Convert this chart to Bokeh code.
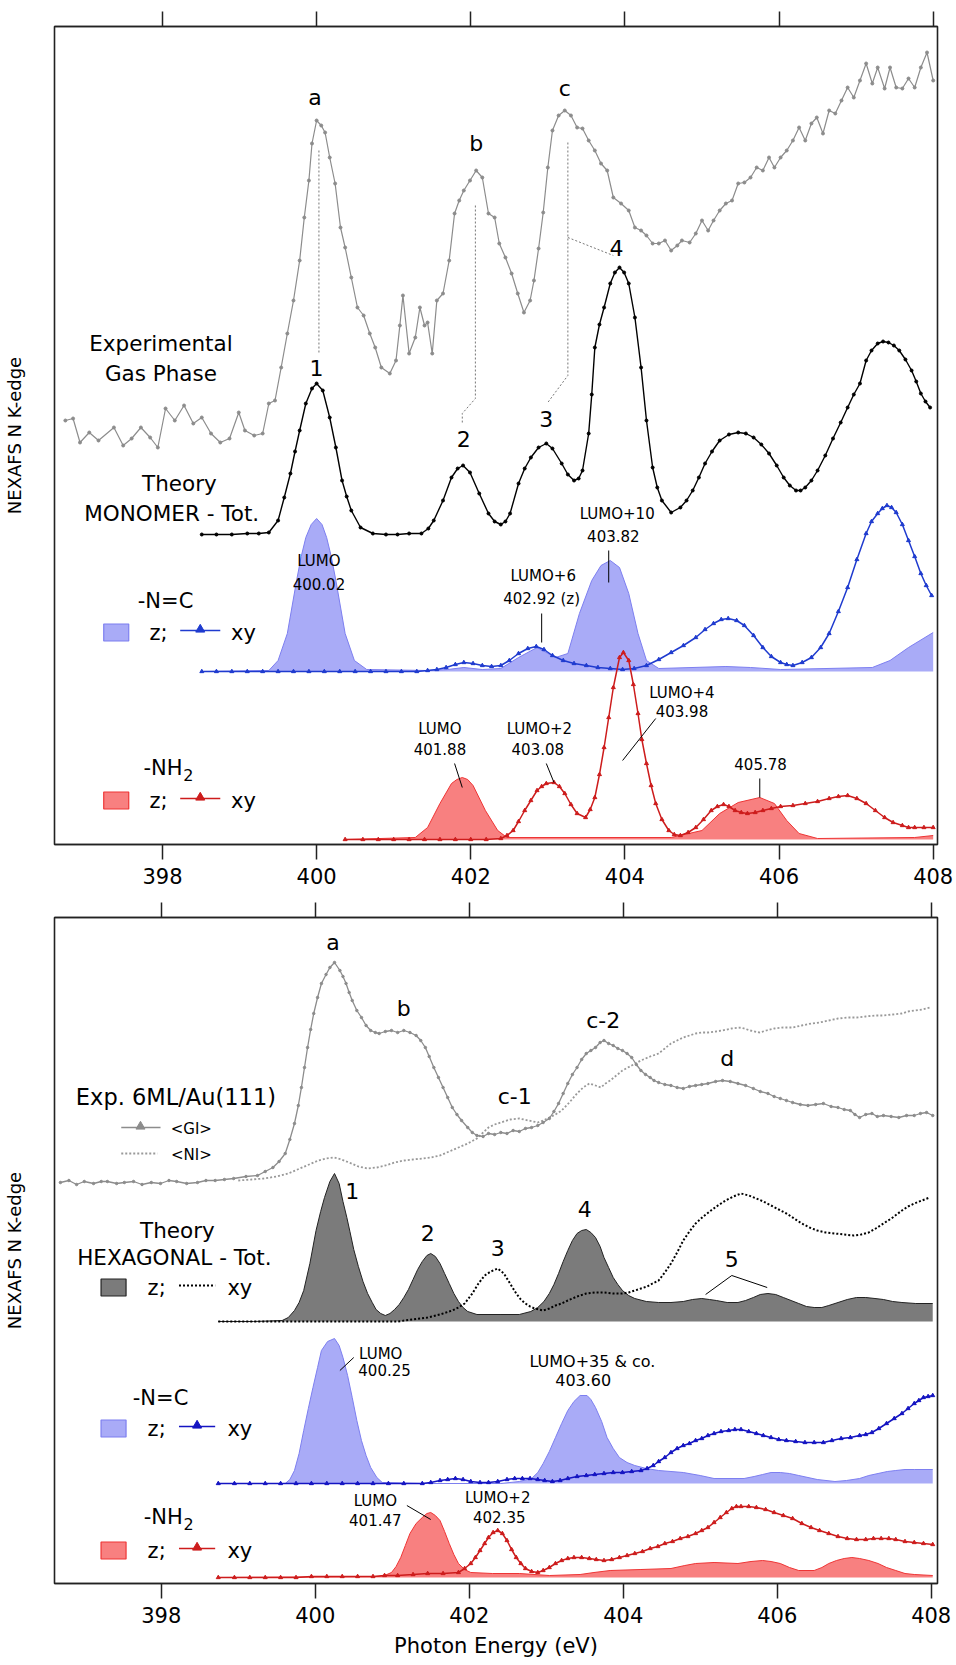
from bokeh.plotting import figure
from bokeh.models import Range1d, LinearAxis, FixedTicker
from bokeh.layouts import column
from bokeh.core.properties import value
from bokeh.embed import file_html
from bokeh.resources import INLINE

FONT = "DejaVu Sans"

# ---------------- data (photon energy eV, intensity arb. units above own baseline) -------------
TICKS = [398, 400, 402, 404, 406, 408]

# Top panel: gas phase experiment and MONOMER theory
GAS = [(396.74,10),(396.84,12),(396.93,-12),(397.05,-2),(397.17,-10),(397.37,3),(397.49,-15),(397.60,-8),(397.72,3),(397.84,-7),(397.94,-17),(398.04,22),(398.16,10),(398.28,25),(398.40,7),(398.51,13),(398.63,-3),(398.75,-12),(398.87,-8),(398.99,18),(399.07,0),(399.19,-5),(399.30,-3),(399.38,27),(399.46,30),(399.54,63),(399.62,97),(399.70,130),(399.78,170),(399.84,213),(399.90,250),(399.94,287),(400.00,310),(400.06,305),(400.11,298),(400.17,273),(400.24,247),(400.31,203),(400.37,183),(400.45,153),(400.53,123),(400.61,115),(400.69,97),(400.76,83),(400.84,63),(400.95,57),(401.03,70),(401.08,105),(401.12,135),(401.20,77),(401.28,93),(401.34,123),(401.40,105),(401.44,108),(401.50,77),(401.56,130),(401.64,137),(401.72,170),(401.79,217),(401.85,230),(401.91,240),(401.99,250),(402.07,260),(402.15,253),(402.23,217),(402.31,213),(402.37,187),(402.45,173),(402.53,157),(402.61,137),(402.69,118),(402.77,130),(402.82,150),(402.88,182),(402.94,218),(403.00,263),(403.06,300),(403.14,315),(403.22,320),(403.30,315),(403.38,303),(403.45,302),(403.53,290),(403.61,280),(403.69,267),(403.77,260),(403.85,233),(403.95,227),(404.05,220),(404.13,203),(404.21,200),(404.28,195),(404.36,187),(404.44,187),(404.52,190),(404.60,180),(404.68,185),(404.74,190),(404.84,188),(404.92,197),(405.00,210),(405.08,200),(405.15,210),(405.23,220),(405.31,227),(405.39,230),(405.47,247),(405.55,248),(405.63,253),(405.71,263),(405.79,260),(405.87,273),(405.94,263),(406.02,273),(406.10,280),(406.18,290),(406.26,303),(406.34,290),(406.42,307),(406.49,313),(406.57,297),(406.65,320),(406.73,317),(406.81,330),(406.89,343),(406.97,333),(407.05,350),(407.13,367),(407.21,347),(407.28,363),(407.37,342),(407.44,363),(407.52,343),(407.60,342),(407.68,352),(407.76,343),(407.84,363),(407.92,378),(408.00,350)]

MONO_TOT = [(398.51,0),(398.70,0),(398.90,0),(399.10,1),(399.25,1),(399.38,2),(399.50,14),(399.58,37),(399.66,61),(399.72,83),(399.78,104),(399.86,131),(399.94,146),(400.00,151),(400.08,144),(400.17,117),(400.25,87),(400.33,54),(400.39,38),(400.45,24),(400.57,7),(400.73,1),(400.90,0),(401.05,0),(401.20,1),(401.36,1),(401.45,6),(401.52,14),(401.64,34),(401.75,57),(401.83,66),(401.90,69),(401.99,62),(402.11,41),(402.23,21),(402.31,13),(402.39,10),(402.45,13),(402.51,21),(402.62,51),(402.70,66),(402.78,77),(402.88,87),(402.98,91),(403.06,86),(403.18,71),(403.26,60),(403.34,54),(403.40,56),(403.45,64),(403.53,101),(403.57,140),(403.61,187),(403.67,210),(403.73,227),(403.81,251),(403.87,262),(403.93,267),(403.99,262),(404.05,251),(404.13,217),(404.21,167),(404.28,114),(404.36,67),(404.42,47),(404.48,34),(404.60,22),(404.72,27),(404.80,34),(404.88,44),(404.96,57),(405.04,71),(405.13,83),(405.23,94),(405.35,100),(405.47,102),(405.57,101),(405.67,97),(405.77,90),(405.87,81),(405.97,69),(406.06,57),(406.14,49),(406.22,44),(406.28,44),(406.34,47),(406.42,54),(406.50,64),(406.60,79),(406.70,96),(406.80,112),(406.89,127),(406.97,140),(407.05,151),(407.13,174),(407.20,184),(407.28,191),(407.35,193),(407.42,192),(407.49,189),(407.56,184),(407.64,175),(407.72,164),(407.78,153),(407.84,141),(407.90,133),(407.96,127)]

MONO_NC_Z = [(398.51,0),(399.38,1),(399.50,11),(399.62,38),(399.74,91),(399.80,115),(399.86,134),(399.93,147),(400.00,153),(400.07,147),(400.13,134),(400.19,115),(400.25,91),(400.37,38),(400.49,11),(400.65,2),(401.44,1),(401.70,2),(401.91,4),(402.15,2),(402.39,3),(402.62,14),(402.86,24),(403.10,14),(403.26,18),(403.41,58),(403.57,91),(403.69,106),(403.81,111),(403.93,104),(404.05,78),(404.17,38),(404.28,11),(404.44,3),(405.31,5),(405.63,4),(406.02,2),(407.21,4),(407.44,11),(407.68,24),(408.00,39)]

MONO_NC_XY = [(398.51,0),(398.70,0),(398.90,0),(399.10,0),(399.30,0),(399.50,0),(399.70,0),(399.90,0),(400.10,0),(400.30,0),(400.50,0),(400.70,0),(400.90,0),(401.10,0),(401.30,0),(401.44,1),(401.56,2),(401.68,4),(401.80,7),(401.91,9),(402.03,8),(402.15,6),(402.27,5),(402.39,6),(402.50,11),(402.62,18),(402.74,23),(402.85,25),(402.95,22),(403.06,16),(403.20,11),(403.34,8),(403.50,6),(403.65,4),(403.81,3),(403.97,2),(404.12,3),(404.28,6),(404.44,12),(404.60,19),(404.76,26),(404.92,34),(405.04,42),(405.15,48),(405.25,52),(405.34,53),(405.45,51),(405.55,46),(405.67,36),(405.79,24),(405.90,15),(406.02,9),(406.10,7),(406.18,6),(406.30,9),(406.42,14),(406.54,24),(406.65,38),(406.77,60),(406.89,84),(407.01,112),(407.13,138),(407.20,150),(407.28,158),(407.34,163),(407.40,166),(407.46,164),(407.52,159),(407.60,147),(407.68,131),(407.76,115),(407.84,98),(407.91,86),(407.98,76)]

MONO_NH2_Z = [(400.37,0),(401.28,2),(401.44,12),(401.60,36),(401.75,56),(401.82,60),(401.89,62),(401.96,60),(402.03,54),(402.19,29),(402.35,9),(402.47,2),(404.60,2),(405.00,9),(405.23,26),(405.47,37),(405.75,42),(405.94,36),(406.10,19),(406.26,6),(406.50,1),(407.76,2),(408.00,4)]

MONO_NH2_XY = [(400.37,0),(400.60,0),(400.80,0),(401.00,0),(401.20,0),(401.40,0),(401.60,0),(401.80,0),(402.00,0),(402.20,0),(402.39,1),(402.47,4),(402.55,9),(402.62,18),(402.70,29),(402.78,39),(402.86,49),(402.92,53),(402.98,56),(403.08,57),(403.15,53),(403.22,46),(403.30,35),(403.38,26),(403.49,22),(403.55,30),(403.61,42),(403.67,65),(403.73,92),(403.79,122),(403.85,152),(403.93,182),(403.98,187),(404.05,179),(404.11,155),(404.17,126),(404.22,100),(404.28,76),(404.34,54),(404.40,36),(404.48,20),(404.57,9),(404.64,5),(404.72,4),(404.82,7),(404.92,12),(405.02,20),(405.12,29),(405.20,33),(405.28,35),(405.35,33),(405.43,29),(405.51,27),(405.59,26),(405.69,27),(405.79,29),(405.90,31),(406.02,33),(406.18,34),(406.34,36),(406.50,38),(406.65,41),(406.77,43),(406.89,44),(407.01,41),(407.13,36),(407.25,29),(407.37,22),(407.48,17),(407.60,14),(407.68,12),(407.76,12),(407.88,12),(408.00,12)]

# Bottom panel: 6ML/Au(111) film and HEXAGONAL theory
FILM_GI = [(396.69,0),(396.80,2),(396.90,-2),(397.00,1),(397.12,-1),(397.22,1),(397.30,1),(397.42,-1),(397.52,0),(397.64,1),(397.75,-2),(397.87,0),(397.99,-1),(398.10,2),(398.20,1),(398.33,-1),(398.47,0),(398.58,2),(398.70,2),(398.82,3),(398.94,4),(399.10,6),(399.25,7),(399.35,11),(399.45,15),(399.53,21),(399.61,29),(399.67,43),(399.73,59),(399.78,77),(399.82,95),(399.86,115),(399.90,135),(399.94,153),(399.98,169),(400.03,185),(400.08,199),(400.14,208),(400.19,215),(400.25,220),(400.32,212),(400.36,206),(400.40,199),(400.44,190),(400.48,182),(400.54,172),(400.60,165),(400.66,157),(400.72,152),(400.78,150),(400.83,149),(400.91,151),(400.99,152),(401.07,150),(401.15,152),(401.23,150),(401.31,147),(401.37,142),(401.43,135),(401.48,126),(401.54,115),(401.60,105),(401.66,95),(401.72,85),(401.78,75),(401.84,68),(401.90,62),(401.98,55),(402.04,50),(402.10,47),(402.18,46),(402.25,49),(402.33,48),(402.41,50),(402.49,49),(402.57,52),(402.65,51),(402.73,54),(402.81,55),(402.89,57),(402.96,60),(403.04,64),(403.10,71),(403.16,79),(403.22,89),(403.28,99),(403.34,108),(403.40,115),(403.46,123),(403.52,129),(403.58,132),(403.64,135),(403.70,140),(403.75,142),(403.81,139),(403.87,137),(403.93,134),(403.99,132),(404.05,129),(404.11,125),(404.17,118),(404.23,112),(404.29,108),(404.35,105),(404.40,102),(404.46,100),(404.54,98),(404.62,97),(404.70,95),(404.78,94),(404.86,96),(404.94,97),(405.02,98),(405.10,99),(405.20,101),(405.29,102),(405.39,101),(405.49,99),(405.59,97),(405.69,94),(405.78,91),(405.88,89),(405.96,86),(406.04,84),(406.12,82),(406.20,80),(406.30,78),(406.40,77),(406.50,78),(406.60,79),(406.70,76),(406.79,75),(406.87,73),(406.95,72),(407.01,68),(407.07,65),(407.15,68),(407.23,69),(407.30,66),(407.38,67),(407.48,66),(407.58,65),(407.68,67),(407.78,67),(407.86,69),(407.94,70),(408.02,67)]

FILM_NI = [(399.00,2),(399.17,3),(399.33,4),(399.50,6),(399.65,9),(399.77,13),(399.89,17),(400.04,22),(400.14,24),(400.24,25),(400.34,23),(400.44,20),(400.56,16),(400.68,14),(400.80,15),(400.91,17),(401.03,20),(401.15,22),(401.27,23),(401.39,24),(401.50,25),(401.62,27),(401.74,31),(401.86,35),(401.98,39),(402.10,44),(402.18,50),(402.25,55),(402.33,58),(402.41,60),(402.53,63),(402.65,64),(402.77,62),(402.89,60),(402.96,62),(403.04,65),(403.12,68),(403.20,72),(403.30,80),(403.40,89),(403.48,95),(403.56,99),(403.64,97),(403.71,95),(403.77,99),(403.83,102),(403.91,107),(403.99,112),(404.11,117),(404.23,122),(404.35,126),(404.46,129),(404.54,134),(404.62,139),(404.70,142),(404.78,145),(404.86,147),(404.94,149),(405.02,150),(405.10,150),(405.20,151),(405.29,152),(405.41,154),(405.53,155),(405.65,152),(405.77,150),(405.86,152),(405.96,154),(406.08,155),(406.20,155),(406.32,157),(406.44,159),(406.55,160),(406.67,162),(406.79,164),(406.91,165),(407.03,165),(407.15,166),(407.27,167),(407.38,167),(407.50,168),(407.62,169),(407.70,171),(407.78,172),(407.88,173),(407.98,175)]

HEX_Z = [(398.74,0),(399.20,0),(399.57,1),(399.65,4),(399.73,11),(399.79,19),(399.85,31),(399.93,58),(400.01,91),(400.07,110),(400.12,124),(400.19,140),(400.25,148),(400.31,138),(400.36,120),(400.41,104),(400.45,90),(400.50,72),(400.56,55),(400.62,40),(400.68,28),(400.74,19),(400.79,12),(400.85,8),(400.91,6),(400.97,8),(401.03,12),(401.09,17),(401.15,24),(401.21,32),(401.27,42),(401.33,52),(401.39,60),(401.45,66),(401.50,68),(401.56,65),(401.62,58),(401.68,48),(401.74,38),(401.80,28),(401.86,20),(401.92,14),(401.98,10),(402.10,7),(402.40,7),(402.65,7),(402.80,10),(402.89,14),(402.97,20),(403.04,28),(403.10,37),(403.16,48),(403.22,60),(403.28,71),(403.34,81),(403.40,88),(403.46,91),(403.52,92),(403.58,89),(403.64,84),(403.70,75),(403.75,64),(403.81,54),(403.87,44),(403.93,37),(403.99,31),(404.07,26),(404.15,23),(404.30,20),(404.46,19),(404.62,19),(404.78,20),(404.90,22),(405.02,23),(405.12,22),(405.21,21),(405.35,19),(405.49,19),(405.59,21),(405.69,24),(405.78,27),(405.88,28),(405.98,27),(406.08,24),(406.18,21),(406.28,18),(406.38,15),(406.48,14),(406.58,14),(406.67,16),(406.79,19),(406.91,22),(407.03,24),(407.15,24),(407.27,23),(407.38,22),(407.50,20),(407.62,19),(407.80,18),(408.02,18)]

HEX_XY = [(398.74,0),(399.20,0),(399.60,0),(400.00,0),(400.40,0),(400.70,0),(401.07,0),(401.26,2),(401.46,4),(401.62,7),(401.78,11),(401.86,14),(401.94,18),(402.04,28),(402.12,38),(402.20,46),(402.28,50),(402.37,53),(402.45,48),(402.53,38),(402.61,28),(402.67,22),(402.73,18),(402.79,15),(402.85,13),(402.96,11),(403.04,13),(403.12,16),(403.20,18),(403.28,21),(403.40,25),(403.52,28),(403.63,29),(403.75,29),(403.87,28),(403.99,28),(404.07,29),(404.15,31),(404.23,33),(404.31,35),(404.38,38),(404.46,41),(404.54,49),(404.62,58),(404.70,69),(404.78,81),(404.86,90),(404.94,98),(405.04,105),(405.14,111),(405.23,116),(405.33,121),(405.43,125),(405.53,128),(405.63,126),(405.73,123),(405.82,120),(405.92,116),(406.02,112),(406.12,108),(406.22,103),(406.32,98),(406.42,94),(406.52,91),(406.63,89),(406.75,88),(406.87,87),(406.99,86),(407.09,87),(407.19,89),(407.28,93),(407.38,98),(407.50,104),(407.62,111),(407.70,115),(407.78,118),(407.88,121),(407.98,124)]

HEX_NC_Z = [(398.74,0),(399.61,0),(399.67,4),(399.73,13),(399.79,30),(399.85,53),(399.91,75),(399.97,96),(400.03,116),(400.08,133),(400.16,142),(400.25,145),(400.31,138),(400.36,126),(400.42,108),(400.48,86),(400.54,63),(400.60,43),(400.66,28),(400.72,16),(400.80,6),(400.87,1),(401.39,0),(402.41,0),(402.65,2),(402.81,5),(402.89,11),(402.96,20),(403.04,32),(403.12,46),(403.20,60),(403.28,73),(403.36,82),(403.44,88),(403.53,88),(403.58,84),(403.64,76),(403.72,62),(403.79,46),(403.87,35),(403.95,26),(404.05,21),(404.15,18),(404.30,15),(404.46,13),(404.62,12),(404.78,11),(405.00,8),(405.18,5),(405.40,5),(405.57,5),(405.70,7),(405.81,9),(405.92,11),(406.04,11),(406.16,10),(406.28,8),(406.40,6),(406.52,4),(406.75,2),(406.90,3),(407.07,5),(407.19,8),(407.31,10),(407.43,12),(407.54,13),(407.66,14),(407.78,14),(408.02,14)]

HEX_NC_XY = [(398.74,0),(398.95,0),(399.15,0),(399.35,0),(399.55,0),(399.75,0),(399.95,0),(400.15,0),(400.35,0),(400.55,0),(400.75,0),(400.95,0),(401.15,0),(401.39,0),(401.50,1),(401.62,3),(401.72,4),(401.82,5),(401.92,4),(402.02,2),(402.14,1),(402.25,1),(402.37,2),(402.49,4),(402.59,5),(402.69,5),(402.79,5),(402.89,4),(402.98,3),(403.08,2),(403.18,3),(403.28,5),(403.40,7),(403.52,8),(403.63,9),(403.75,10),(403.87,11),(403.99,11),(404.11,12),(404.23,13),(404.31,15),(404.39,18),(404.46,22),(404.54,26),(404.62,31),(404.70,35),(404.78,38),(404.86,40),(404.94,43),(405.02,45),(405.10,48),(405.18,50),(405.27,52),(405.37,53),(405.45,54),(405.53,54),(405.63,52),(405.73,50),(405.82,48),(405.92,46),(406.02,44),(406.12,43),(406.24,42),(406.36,41),(406.48,41),(406.60,41),(406.71,43),(406.83,45),(406.95,46),(407.07,48),(407.15,49),(407.23,51),(407.32,55),(407.42,60),(407.52,65),(407.62,70),(407.70,75),(407.78,80),(407.84,83),(407.90,86),(407.96,87),(408.02,88)]

HEX_NH2_Z = [(398.74,0),(400.83,1),(400.93,3),(400.99,5),(401.05,11),(401.11,20),(401.17,32),(401.23,44),(401.31,54),(401.39,60),(401.45,64),(401.50,65),(401.56,62),(401.62,57),(401.68,46),(401.74,34),(401.80,23),(401.86,14),(401.94,8),(402.02,5),(402.30,4),(402.65,4),(403.04,2),(403.44,3),(403.62,5),(403.83,7),(404.23,8),(404.62,9),(404.80,12),(404.94,14),(405.18,15),(405.49,14),(405.66,16),(405.81,17),(405.92,16),(406.04,14),(406.16,10),(406.28,7),(406.48,7),(406.58,10),(406.67,14),(406.77,17),(406.87,19),(406.97,20),(407.07,19),(407.19,17),(407.31,14),(407.42,10),(407.54,7),(407.66,4),(407.78,3),(408.02,2)]

HEX_NH2_XY = [(398.74,0),(398.95,0),(399.15,0),(399.35,0),(399.55,0),(399.75,0),(399.95,1),(400.15,1),(400.35,1),(400.55,1),(400.75,1),(400.90,2),(401.07,2),(401.27,3),(401.46,4),(401.66,4),(401.86,5),(401.94,9),(402.02,14),(402.08,20),(402.14,27),(402.20,34),(402.25,40),(402.31,45),(402.37,47),(402.43,44),(402.49,37),(402.55,28),(402.61,20),(402.67,14),(402.73,9),(402.81,6),(402.89,5),(402.96,7),(403.04,10),(403.12,14),(403.20,17),(403.28,19),(403.36,20),(403.46,20),(403.56,19),(403.65,18),(403.75,17),(403.85,18),(403.95,20),(404.05,22),(404.15,24),(404.25,26),(404.35,29),(404.45,31),(404.54,34),(404.64,36),(404.74,39),(404.84,41),(404.94,44),(405.02,47),(405.10,50),(405.18,55),(405.26,60),(405.34,65),(405.41,69),(405.47,71),(405.53,71),(405.63,71),(405.73,70),(405.85,68),(405.96,65),(406.08,62),(406.20,59),(406.32,54),(406.44,50),(406.55,47),(406.67,44),(406.79,41),(406.91,39),(407.03,38),(407.15,38),(407.25,39),(407.35,39),(407.45,39),(407.54,38),(407.66,36),(407.78,35),(407.90,34),(408.02,33)]

# ---------------- styles ----------------
GRAY = "#8c8c8c"
BLUE_FILL, BLUE_EDGE = "#a9abf7", "#7d7ff0"
BLUE_TOP, BLUE_BOT = "#1f3bcf", "#1414c2"
RED_FILL, RED_EDGE, RED_LINE = "#f88080", "#ee3535", "#cd1c1c"
DARK_FILL = "#7b7b7b"
FRAME = "#222222"
GROUP = "21.5px"


def make_fig(height, left, right, top, bottom, xr, yr, xlabel=None):
    p = figure(width=956, height=height, x_range=Range1d(*xr), y_range=Range1d(*yr),
               output_backend="svg", toolbar_location=None, tools="",
               min_border_left=left, min_border_right=right,
               min_border_top=top, min_border_bottom=bottom)
    p.grid.visible = False
    p.outline_line_color = FRAME
    p.outline_line_width = 1.6
    p.outline_line_alpha = 1.0
    ax = p.xaxis[0]
    ax.ticker = FixedTicker(ticks=TICKS)
    ax.major_tick_out = 15
    ax.major_tick_in = 0
    ax.minor_tick_line_color = None
    ax.major_tick_line_color = FRAME
    ax.major_tick_line_width = 1.5
    ax.axis_line_color = FRAME
    ax.axis_line_width = 1.6
    ax.major_label_text_font = FONT
    ax.major_label_text_font_size = "21px"
    ax.major_label_text_color = "black"
    ax.major_label_standoff = 8
    if xlabel:
        ax.axis_label = xlabel
        ax.axis_label_text_font = FONT
        ax.axis_label_text_font_size = "21px"
        ax.axis_label_text_font_style = "normal"
        ax.axis_label_text_color = "black"
        ax.axis_label_standoff = 8
    top_ax = LinearAxis(ticker=FixedTicker(ticks=TICKS), major_tick_out=15, major_tick_in=0,
                        minor_tick_line_color=None, major_tick_line_color=FRAME,
                        major_tick_line_width=1.5, axis_line_color=FRAME, axis_line_width=1.6,
                        major_label_text_font_size="0px", major_label_text_color=None)
    p.add_layout(top_ax, "above")
    ya = p.yaxis[0]
    ya.ticker = FixedTicker(ticks=[])
    ya.axis_line_color = None
    ya.major_tick_line_color = None
    ya.minor_tick_line_color = None
    ya.major_label_text_font_size = "0px"
    ya.axis_label = "NEXAFS N K-edge"
    ya.axis_label_text_font = FONT
    ya.axis_label_text_font_size = "18px"
    ya.axis_label_text_font_style = "normal"
    ya.axis_label_text_color = "black"
    ya.axis_label_standoff = 30
    return p


def xs(series):
    return [e for e, _ in series]


def ys(series, off):
    return [off + v for _, v in series]


def curve(p, series, off, color, width=1.3, marker=None, msize=3, dash="solid"):
    x, y = xs(series), ys(series, off)
    p.line(x, y, line_color=color, line_width=width, line_dash=dash)
    if marker:
        p.scatter(x, y, marker=marker, size=msize, fill_color=color, line_color=color)


def fill(p, series, off, fcolor, ecolor):
    x, y = xs(series), ys(series, off)
    p.varea(x=x, y1=[off] * len(x), y2=y, fill_color=fcolor)
    p.line(x, y, line_color=ecolor, line_width=1.0)


def txt(p, x, y, s, size, color="black", align="center"):
    p.text(x=[x], y=[y], text=[s], text_font=value(FONT), text_font_size=size,
           text_align=align, text_baseline="middle", text_color=color)


def seg(p, xs_, ys_, color="black", dash="solid", width=1.0):
    p.line(xs_, ys_, line_color=color, line_dash=dash, line_width=width)


def nh2(p, x_end, y):
    txt(p, x_end, y, "-NH", "21px", align="right")
    txt(p, x_end + 0.01, y - 7, "2", "16px", align="left")


def legend_row(p, ex, y, fcolor, ecolor, lcolor, marker, dash="solid", lw=1.5):
    p.rect(x=[ex[0]], y=[y], width=25, height=17, width_units="screen", height_units="screen",
           fill_color=fcolor, line_color=ecolor, line_width=1.2)
    txt(p, ex[1], y, "z;", "21px")
    p.line([ex[2], ex[3]], [y + 2, y + 2], line_color=lcolor, line_width=lw, line_dash=dash)
    if marker:
        p.scatter([(ex[2] + ex[3]) / 2], [y + 3], marker=marker, size=9, color=lcolor)
    txt(p, ex[4], y, "xy", "21px")


# ================= TOP PANEL =================
p1 = make_fig(898, 54, 19, 26, 54, (396.599, 408.056), (0, 818))

OFF_GAS, OFF_MONO, OFF_MNC, OFF_MNH2 = 414, 310, 173, 5

fill(p1, MONO_NC_Z, OFF_MNC, BLUE_FILL, BLUE_EDGE)
fill(p1, MONO_NH2_Z, OFF_MNH2, RED_FILL, RED_EDGE)
curve(p1, GAS, OFF_GAS, GRAY, 1.2, "circle", 3)
curve(p1, MONO_TOT, OFF_MONO, "black", 1.4, "circle", 3)
curve(p1, MONO_NC_XY, OFF_MNC, BLUE_TOP, 1.5, "triangle", 4)
curve(p1, MONO_NH2_XY, OFF_MNH2, RED_LINE, 1.5, "triangle", 4)

# dotted guides
g = "#777777"
seg(p1, [400.03, 400.03], [694, 491], g, "2 2")
seg(p1, [402.06, 402.06, 401.89, 401.89], [639, 446, 431, 422], g, "2 2")
seg(p1, [403.26, 403.26, 402.99], [702, 469, 441], g, "2 2")
seg(p1, [403.26, 403.85], [607, 589], g, "2 2")

for x, y, s in [(399.98, 747, "a"), (402.07, 701, "b"), (403.22, 756, "c"),
                (400.00, 477, "1"), (401.91, 406, "2"), (402.98, 426, "3"), (403.89, 597, "4")]:
    txt(p1, x, y, s, "22px")

txt(p1, 397.98, 501, "Experimental", GROUP)
txt(p1, 397.98, 471, "Gas Phase", GROUP)
txt(p1, 398.22, 361, "Theory", GROUP)
txt(p1, 398.12, 331, "MONOMER - Tot.", GROUP)
txt(p1, 398.04, 244, "-N=C", "21px")
legend_row(p1, (397.40, 397.95, 398.23, 398.75, 399.05), 212, BLUE_FILL, BLUE_EDGE, BLUE_TOP, "triangle")
nh2(p1, 398.26, 77)
legend_row(p1, (397.40, 397.95, 398.23, 398.75, 399.05), 44, RED_FILL, RED_EDGE, RED_LINE, "triangle")

S = "15px"
txt(p1, 400.03, 284, "LUMO", S); txt(p1, 400.03, 261, "400.02", S)
txt(p1, 402.94, 269, "LUMO+6", S); txt(p1, 402.92, 246, "402.92 (z)", S)
seg(p1, [402.92, 402.92], [231, 202])
txt(p1, 403.90, 331, "LUMO+10", S); txt(p1, 403.85, 309, "403.82", S)
seg(p1, [403.79, 403.79], [294, 262])
txt(p1, 404.74, 152, "LUMO+4", S); txt(p1, 404.74, 134, "403.98", S)
seg(p1, [404.40, 403.97], [126, 84])
txt(p1, 401.60, 116, "LUMO", S); txt(p1, 401.60, 96, "401.88", S)
seg(p1, [401.79, 401.89], [81, 57])
txt(p1, 402.89, 116, "LUMO+2", S); txt(p1, 402.87, 96, "403.08", S)
seg(p1, [402.98, 403.08], [81, 62])
txt(p1, 405.76, 81, "405.78", S)
seg(p1, [405.75, 405.75], [66, 47])

# ================= BOTTOM PANEL =================
p2 = make_fig(767, 52, 17, 19, 82, (396.613, 408.082), (0, 666), "Photon Energy (eV)")

OFF_FILM, OFF_HEX, OFF_HNC, OFF_HNH2 = 401, 262, 100, 6

fill(p2, HEX_Z, OFF_HEX, DARK_FILL, "#222222")
fill(p2, HEX_NC_Z, OFF_HNC, BLUE_FILL, BLUE_EDGE)
fill(p2, HEX_NH2_Z, OFF_HNH2, RED_FILL, RED_EDGE)
curve(p2, FILM_NI, OFF_FILM, "#999999", 1.8, None, dash="2 2")
curve(p2, FILM_GI, OFF_FILM, GRAY, 1.3, "circle", 2.5)
curve(p2, HEX_XY, OFF_HEX, "black", 2.0, None, dash="2 2")
curve(p2, HEX_NC_XY, OFF_HNC, BLUE_BOT, 1.5, "triangle", 4)
curve(p2, HEX_NH2_XY, OFF_HNH2, RED_LINE, 1.5, "triangle", 4)

for x, y, s in [(400.23, 641, "a"), (401.15, 575, "b"), (403.74, 563, "c-2"), (402.59, 487, "c-1"),
                (405.35, 525, "d"), (400.48, 393, "1"), (401.46, 351, "2"), (402.37, 336, "3"),
                (403.50, 375, "4"), (405.41, 325, "5")]:
    txt(p2, x, y, s, "22px")
seg(p2, [405.07, 405.41, 405.87], [289, 308, 296])

txt(p2, 398.19, 487, "Exp. 6ML/Au(111)", "22.5px")
p2.line([397.48, 397.99], [456, 456], line_color=GRAY, line_width=1.3)
p2.scatter([397.73], [457], marker="triangle", size=9, color=GRAY)
txt(p2, 398.39, 455, "<GI>", "15px")
p2.line([397.48, 397.95], [430, 430], line_color="#999999", line_width=1.8, line_dash="2 2")
txt(p2, 398.39, 429, "<NI>", "15px")

txt(p2, 398.21, 353, "Theory", GROUP)
txt(p2, 398.17, 326, "HEXAGONAL - Tot.", GROUP)
legend_row(p2, (397.38, 397.94, 398.23, 398.70, 399.02), 296, DARK_FILL, "#222222", "black", None, dash="2 2", lw=2.0)
txt(p2, 397.99, 186, "-N=C", "21px")
legend_row(p2, (397.38, 397.94, 398.23, 398.70, 399.02), 155, BLUE_FILL, BLUE_EDGE, BLUE_BOT, "triangle")
nh2(p2, 398.28, 67)
legend_row(p2, (397.38, 397.94, 398.23, 398.70, 399.02), 33, RED_FILL, RED_EDGE, RED_LINE, "triangle")

txt(p2, 400.85, 230, "LUMO", S); txt(p2, 400.90, 214, "400.25", S)
seg(p2, [400.50, 400.32], [226, 213])
txt(p2, 403.60, 222, "LUMO+35 & co.", "16px"); txt(p2, 403.48, 204, "403.60", "16px")
txt(p2, 400.78, 83, "LUMO", S); txt(p2, 400.78, 64, "401.47", S)
seg(p2, [401.19, 401.50], [78, 64])
txt(p2, 402.37, 86, "LUMO+2", S); txt(p2, 402.39, 67, "402.35", S)

layout = column(p1, p2, spacing=0)
open("out.html", "w").write(file_html(layout, INLINE))
